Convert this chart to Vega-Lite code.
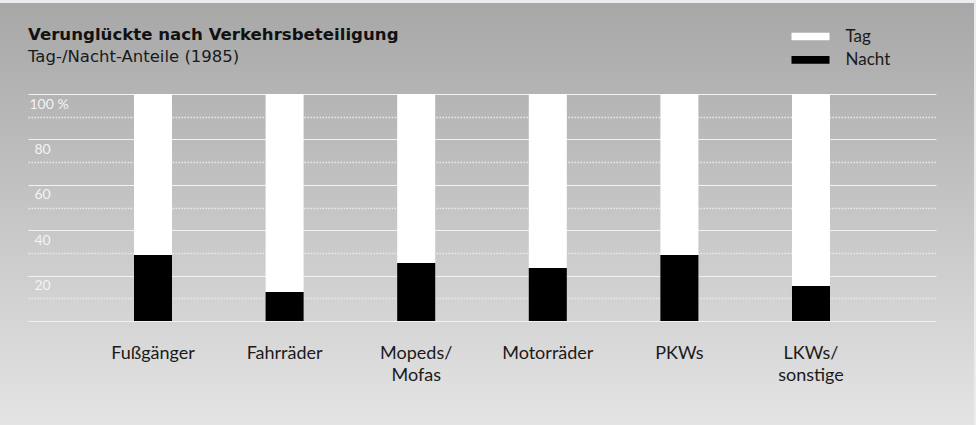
{
  "$schema": "https://vega.github.io/schema/vega-lite/v6.json",
  "width": 974,
  "height": 422,
  "autosize": "none",
  "padding": {"top": 3, "left": 0, "right": 2, "bottom": 0},
  "background": "#ececf0",
  "title": {
    "text": "Verunglückte nach Verkehrsbeteiligung",
    "subtitle": "Tag-/Nacht-Anteile (1985)",
    "anchor": "start",
    "frame": "group",
    "orient": "top",
    "offset": -62,
    "dx": 28,
    "font": "DejaVu Sans",
    "fontSize": 16.6,
    "fontWeight": "bold",
    "color": "#111111",
    "subtitleFont": "DejaVu Sans",
    "subtitleFontSize": 16.5,
    "subtitleColor": "#1a1a1a",
    "subtitlePadding": 4.8
  },
  "data": {
    "values": [
      {"Gruppe": "Fußgänger", "Zeit": "Nacht", "Anteil": 29.1},
      {"Gruppe": "Fußgänger", "Zeit": "Tag", "Anteil": 70.9},
      {"Gruppe": "Fahrräder", "Zeit": "Nacht", "Anteil": 12.8},
      {"Gruppe": "Fahrräder", "Zeit": "Tag", "Anteil": 87.2},
      {"Gruppe": "Mopeds/\nMofas", "Zeit": "Nacht", "Anteil": 25.5},
      {"Gruppe": "Mopeds/\nMofas", "Zeit": "Tag", "Anteil": 74.5},
      {"Gruppe": "Motorräder", "Zeit": "Nacht", "Anteil": 23.3},
      {"Gruppe": "Motorräder", "Zeit": "Tag", "Anteil": 76.7},
      {"Gruppe": "PKWs", "Zeit": "Nacht", "Anteil": 29.1},
      {"Gruppe": "PKWs", "Zeit": "Tag", "Anteil": 70.9},
      {"Gruppe": "LKWs/\nsonstige", "Zeit": "Nacht", "Anteil": 15.4},
      {"Gruppe": "LKWs/\nsonstige", "Zeit": "Tag", "Anteil": 84.6}
    ]
  },
  "mark": {"type": "bar"},
  "encoding": {
    "x": {
      "field": "Gruppe",
      "type": "nominal",
      "sort": null,
      "scale": {"range": [28, 936], "paddingInner": 0.7112, "paddingOuter": 0.8055},
      "axis": {
        "orient": "bottom",
        "offset": -104,
        "domain": false,
        "ticks": false,
        "tickSize": 0,
        "grid": false,
        "labelAngle": 0,
        "labelPadding": 23,
        "labelBaseline": "top",
        "labelFont": "Lato",
        "labelFontSize": 18,
        "labelColor": "#1a1a1a",
        "labelLineHeight": 22,
        "labelExpr": "split(datum.label, '\\n')",
        "title": null
      }
    },
    "y": {
      "field": "Anteil",
      "type": "quantitative",
      "stack": "zero",
      "scale": {"domain": [0, 100], "range": [318, 91], "nice": false},
      "axis": {
        "values": [0, 10, 20, 30, 40, 50, 60, 70, 80, 90, 100],
        "orient": "left",
        "offset": -28,
        "domain": false,
        "ticks": false,
        "tickSize": 0,
        "grid": true,
        "gridColor": {"condition": {"test": "datum.value % 20 === 0", "value": "#f2f2f2"}, "value": "#ececec"},
        "gridDash": {"condition": {"test": "datum.value % 20 === 0", "value": []}, "value": [1.5, 1.5]},
        "gridWidth": {"condition": {"test": "datum.value % 20 === 0", "value": 1.2}, "value": 1.5},
        "labelExpr": "datum.value === 100 ? '100 %' : (datum.value % 20 === 0 && datum.value > 0 ? datum.label : '')",
        "labelAlign": "left",
        "labelBaseline": "top",
        "labelPadding": {"condition": {"test": "datum.value === 100", "value": -1}, "value": -6},
        "labelOffset": 3,
        "labelFont": "Lato",
        "labelFontSize": 14,
        "labelColor": "#f4f4f4",
        "labelOverlap": false,
        "title": null
      }
    },
    "color": {
      "field": "Zeit",
      "type": "nominal",
      "scale": {"domain": ["Tag", "Nacht"], "range": ["#ffffff", "#000000"]},
      "legend": {
        "orient": "none",
        "legendX": 801,
        "legendY": 24,
        "title": null,
        "symbolType": "M-2,-0.4L2,-0.4L2,0.4L-2,0.4Z",
        "symbolSize": 361,
        "symbolStrokeWidth": 0,
        "symbolOpacity": 1,
        "labelFont": "Lato",
        "labelFontSize": 17,
        "labelColor": "#1a1a1a",
        "labelOffset": 25.5,
        "rowPadding": 5.4,
        "padding": 0
      }
    },
    "order": {"field": "Zeit", "sort": "ascending"}
  },
  "config": {
    "view": {
      "stroke": null,
      "fill": {
        "gradient": "linear",
        "x1": 0, "y1": 0, "x2": 0, "y2": 1,
        "stops": [
          {"offset": 0, "color": "#a7a7a7"},
          {"offset": 1, "color": "#e4e4e4"}
        ]
      }
    }
  }
}
